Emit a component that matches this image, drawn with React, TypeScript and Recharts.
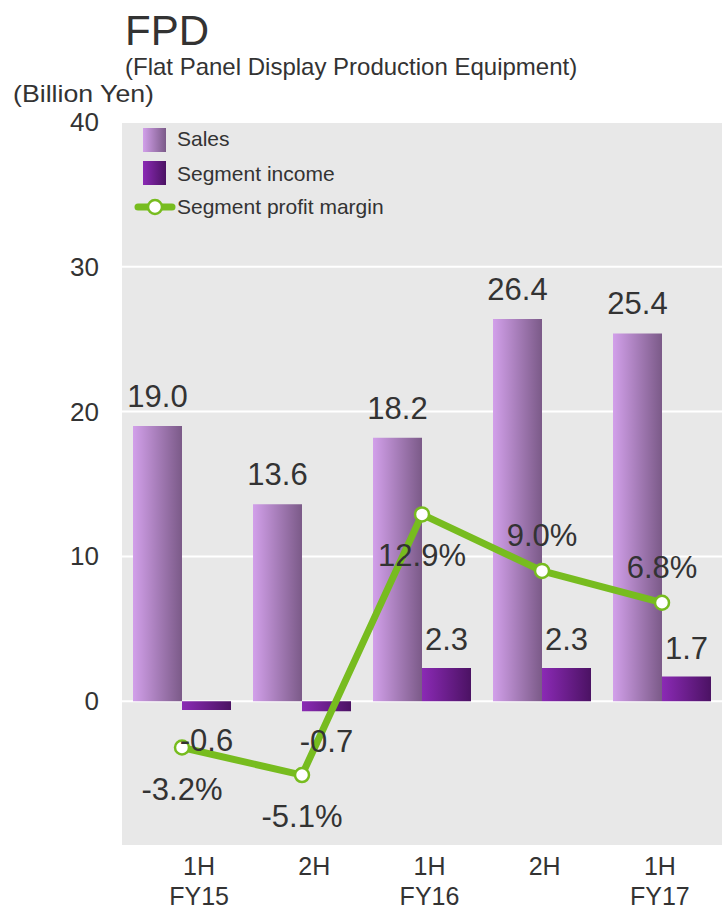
import { ComposedChart, Bar, Line, XAxis, YAxis, CartesianGrid, LabelList } from 'recharts';

const HALVES = ['1H', '2H', '1H', '2H', '1H'];
const YEARS = ['FY15', 'FY15', 'FY16', 'FY16', 'FY17'];
const SALES = [19.0, 13.6, 18.2, 26.4, 25.4];
const INCOME = [-0.6, -0.7, 2.3, 2.3, 1.7];
const MARGIN = [-3.2, -5.1, 12.9, 9.0, 6.8];
const Y_TICKS = [0, 10, 20, 30, 40];

const data = HALVES.map((h, i) => ({
  period: `${h} ${YEARS[i]}`,
  sales: SALES[i],
  income: INCOME[i],
  margin: MARGIN[i],
}));

const FONT = '"Liberation Sans", Arial, Helvetica, sans-serif';
const INK = '#333333';
const GREEN = '#77bc1f';
const LABEL_SIZE = 31;

function box(p: any) {
  const vb = p.viewBox ?? p;
  const x = Number(vb.x ?? p.x);
  const y = Number(vb.y ?? p.y);
  const w = Number(vb.width ?? p.width ?? 0);
  const h = Number(vb.height ?? p.height ?? 0);
  return { cx: x + w / 2, top: Math.min(y, y + h), bottom: Math.max(y, y + h) };
}

function SalesLabel(p: any) {
  const { cx, top } = box(p);
  return (
    <text x={cx} y={top - 19} textAnchor="middle" fontSize={LABEL_SIZE} fill={INK} fontFamily={FONT}>
      {Number(p.value).toFixed(1)}
    </text>
  );
}

function IncomeLabel(p: any) {
  const { cx, top, bottom } = box(p);
  const v = Number(p.value);
  return (
    <text x={cx} y={v < 0 ? bottom + 41 : top - 18} textAnchor="middle" fontSize={LABEL_SIZE} fill={INK} fontFamily={FONT}>
      {v.toFixed(1)}
    </text>
  );
}

function MarginLabel(p: any) {
  const { cx, top } = box(p);
  // first three sit under the point, the rest above
  const below = p.index < 3;
  return (
    <text x={cx} y={below ? top + 52 : top - 25} textAnchor="middle" fontSize={LABEL_SIZE} fill={INK} fontFamily={FONT}>
      {Number(p.value).toFixed(1)}%
    </text>
  );
}

function XTick({ x, y, payload }: any) {
  const i = payload.index;
  const half = HALVES[i];
  const shift = 7.5 + (422 - x) * 0.04;
  return (
    <text x={x + shift} y={y} textAnchor="middle" fontSize={25} fill={INK} fontFamily={FONT}>
      <tspan x={x + shift} dy={29}>{half}</tspan>
      {half === '1H' && <tspan x={x + shift} dy={30}>{YEARS[i]}</tspan>}
    </text>
  );
}

function YTick({ x, y, payload }: any) {
  return (
    <text x={x - 23} y={y + 9} textAnchor="end" fontSize={26} fill={INK} fontFamily={FONT}>
      {payload.value}
    </text>
  );
}

function Overlay() {
  return (
    <svg width={725} height={910} style={{ position: 'absolute', left: 0, top: 0, pointerEvents: 'none' }} fontFamily={FONT}>
      <defs>
        <linearGradient id="lgSales" x1="0" y1="0" x2="1" y2="0">
          <stop offset="0%" stopColor="#d2a0ea" />
          <stop offset="100%" stopColor="#7b5a88" />
        </linearGradient>
        <linearGradient id="lgIncome" x1="0" y1="0" x2="1" y2="0">
          <stop offset="0%" stopColor="#8b2ab5" />
          <stop offset="100%" stopColor="#4b1263" />
        </linearGradient>
      </defs>
      <text x={125} y={45} fontSize={42} fill={INK}>FPD</text>
      <text x={125} y={75} fontSize={24} fill={INK}>(Flat Panel Display Production Equipment)</text>
      <text x={13} y={102} fontSize={24} fill={INK} textLength={141} lengthAdjust="spacingAndGlyphs">(Billion Yen)</text>

      <rect x={143} y={128} width={23} height={24} fill="url(#lgSales)" />
      <text x={177} y={146} fontSize={21} fill={INK}>Sales</text>
      <rect x={143} y={161} width={23} height={24} fill="url(#lgIncome)" />
      <text x={177} y={181} fontSize={21} fill={INK}>Segment income</text>
      <line x1={138} y1={207} x2={172} y2={207} stroke={GREEN} strokeWidth={7} strokeLinecap="round" />
      <circle cx={155} cy={207} r={7} fill="#fff" stroke={GREEN} strokeWidth={2.5} />
      <text x={177} y={214} fontSize={21} fill={INK}>Segment profit margin</text>
    </svg>
  );
}

export default function App() {
  return (
    <div style={{ position: 'absolute', left: 0, top: 0, width: 725, height: 910, background: '#fff' }}>
      <ComposedChart
        width={725}
        height={910}
        data={data}
        margin={{ top: 122, right: 3, bottom: 0, left: 62 }}
        barGap={0}
      >
        <defs>
          <linearGradient id="gSales" x1="0" y1="0" x2="1" y2="0">
            <stop offset="0%" stopColor="#d2a0ea" />
            <stop offset="100%" stopColor="#7b5a88" />
          </linearGradient>
          <linearGradient id="gIncome" x1="0" y1="0" x2="1" y2="0">
            <stop offset="0%" stopColor="#8b2ab5" />
            <stop offset="100%" stopColor="#4b1263" />
          </linearGradient>
        </defs>
        <CartesianGrid fill="#e8e8e8" stroke="#ffffff" strokeWidth={2} vertical={false} />
        <XAxis
          dataKey="period"
          height={64}
          axisLine={false}
          tickLine={false}
          tickSize={0}
          tickMargin={0}
          interval={0}
          tick={<XTick />}
        />
        <YAxis
          width={60}
          domain={[-10, 40]}
          ticks={Y_TICKS}
          axisLine={false}
          tickLine={false}
          tickSize={0}
          tickMargin={0}
          tick={<YTick />}
        />
        <Bar dataKey="sales" fill="url(#gSales)" barSize={49} isAnimationActive={false}>
          <LabelList dataKey="sales" content={<SalesLabel />} />
        </Bar>
        <Bar dataKey="income" fill="url(#gIncome)" barSize={49} isAnimationActive={false}>
          <LabelList dataKey="income" content={<IncomeLabel />} />
        </Bar>
        <Line
          type="linear"
          dataKey="margin"
          stroke={GREEN}
          strokeWidth={7}
          dot={{ r: 7, fill: '#ffffff', stroke: GREEN, strokeWidth: 2.5 }}
          activeDot={false}
          isAnimationActive={false}
        >
          <LabelList dataKey="margin" content={<MarginLabel />} />
        </Line>
      </ComposedChart>
      <Overlay />
    </div>
  );
}
